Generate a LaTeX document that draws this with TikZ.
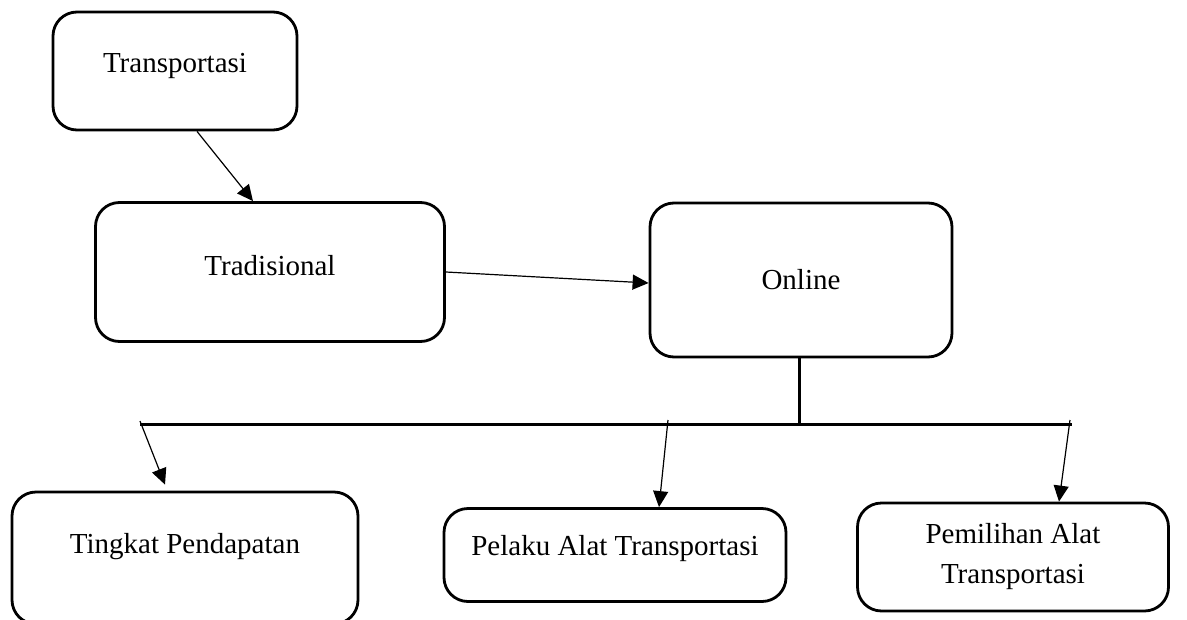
\documentclass[tikz,border=0pt]{standalone}
\usepackage{fontspec}
\setmainfont{Liberation Serif}
\usetikzlibrary{calc,arrows.meta}

\tikzset{
	box/.style={draw,rounded corners=24pt,line width=2.8pt,align=center,
		font=\fontsize{29}{40}\selectfont},
	link/.style={line width=1.2pt,-{Triangle[length=16pt,width=15pt]}},
	bar/.style={line width=3pt}
}

\begin{document}
\begin{tikzpicture}[x=1pt,y=-1pt]
	
	\useasboundingbox (0,0) rectangle (1187,619);
	
	\node [box,minimum width=244pt,minimum height=118pt,text depth=16pt] (transportasi) at (175,71) {Transportasi};
	\node [box,minimum width=349pt,minimum height=139pt,text depth=14pt] (tradisional) at (270,272) {Tradisional};
	\node [box,minimum width=302pt,minimum height=154pt] (online) at (801,280) {Online};
	
	%%%%%%%%%%%%%%%%%%%%%%%%%%%%%%%%%%%%%%%%%%%%%%%%%%%%%%
	
	\node [box,minimum width=346pt,minimum height=132pt,text depth=30pt] (tingkat) at (185,558) {Tingkat Pendapatan};
	\node [box,minimum width=342pt,minimum height=93pt,text depth=20pt] (pelaku) at (615,555) {Pelaku Alat Transportasi};
	\node [box,minimum width=311pt,minimum height=108pt] (pemilihan) at (1013,557) {Pemilihan Alat\\Transportasi};
	
	%%%%%%%%%%%%%%%%%%%%%%%%%%%%%%%%%%%%%%%%%%%%%%%%%%%%%%
	
	\draw [link] ($(transportasi.south)+(22,0)$) -- ($(tradisional.north)+(-17,0)$);
	\draw [link] (tradisional.east) -- ($(online.west)+(0,3)$);
	
	\coordinate (bar-left) at (140,424);
	\coordinate (bar-mid) at (799,424);
	\coordinate (bar-right) at (1072,424);
	
	\draw [bar] ($(online.south)+(-2,0)$) -- (bar-mid);
	\draw [bar] (bar-left) -- (bar-right);
	
	\draw [link] ($(bar-left)+(0,-3)$) -- ($(tingkat.north)+(-20,-6)$);
	\draw [link] ($(bar-mid)+(-131,-4)$) -- ($(pelaku.north)+(44,0)$);
	\draw [link] ($(bar-right)+(-2,-4)$) -- ($(pemilihan.north)+(46,0)$);
	
\end{tikzpicture}
\end{document}
